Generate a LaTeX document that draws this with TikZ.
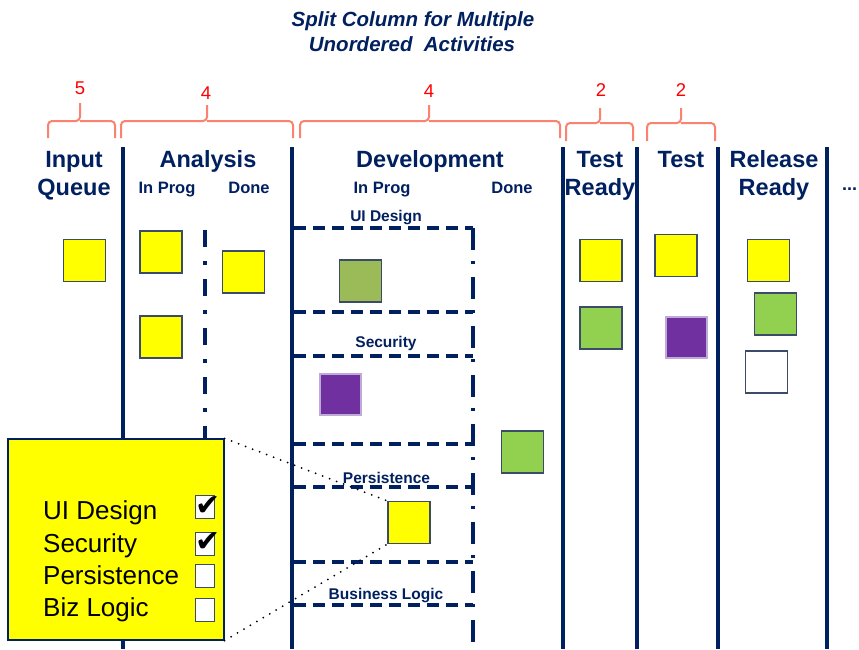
\documentclass[tikz,border=0pt]{standalone}
\usepackage{fontspec}
\setmainfont{Liberation Sans}
\newfontfamily\dejavu{DejaVu Sans}
\definecolor{navy}{RGB}{0,32,96}
\definecolor{bracketc}{RGB}{250,130,110}
\definecolor{cardyellow}{RGB}{255,255,0}
\definecolor{cardolive}{RGB}{155,187,89}
\definecolor{cardgreen}{RGB}{146,208,80}
\definecolor{cardpurple}{RGB}{112,48,160}
\definecolor{cardedge}{RGB}{60,75,105}
\definecolor{purpleedge}{RGB}{190,170,215}
\begin{document}
\begin{tikzpicture}[x=1pt,y=-1pt,
  colline/.style={line width=4pt, draw=navy},
  splitline/.style={line width=4pt, draw=navy, dash pattern=on 17pt off 14pt on 4pt off 14pt},
  splitdev/.style={line width=3.5pt, draw=navy, dash pattern=on 22pt off 11pt on 3pt off 13pt},
  hdash/.style={line width=3.5pt, draw=navy, dash pattern=on 12pt off 7pt},
  brace/.style={line width=2pt, draw=bracketc, rounded corners=4pt},
  limit/.style={text=red, font=\fontsize{18.5}{20}\selectfont, anchor=base, inner sep=0pt},
  head/.style={text=navy, font=\bfseries\fontsize{23.5}{28}\selectfont, anchor=base, inner sep=0pt},
  subhead/.style={text=navy, font=\bfseries\fontsize{16.5}{19}\selectfont, anchor=base, inner sep=0pt},
  lane/.style={text=navy, font=\bfseries\fontsize{15.5}{18}\selectfont, anchor=base, inner sep=0pt},
  ttl/.style={text=navy, font=\bfseries\itshape\fontsize{20.5}{25}\selectfont, anchor=base, inner sep=0pt},
  card/.style={minimum width=42pt, minimum height=42pt, inner sep=0pt, draw=cardedge, line width=1.2pt},
  popbox/.style={minimum width=216pt, minimum height=201pt, inner sep=0pt, draw=navy, line width=1.2pt, fill=cardyellow},
  popt/.style={font=\fontsize{26}{30}\selectfont, anchor=base west, inner sep=0pt},
  cbox/.style={draw=cardedge, fill=white, line width=1pt, minimum width=19pt, minimum height=23pt, inner sep=0pt},
  chk/.style={font=\dejavu\fontsize{30}{30}\selectfont, inner sep=0pt},
  dotline/.style={line width=2pt, dash pattern=on 0pt off 7.5pt, line cap=round}
]
\useasboundingbox[fill=white] (0,0) rectangle (859,649);

% title
\node[ttl] (t1) at (413,26) {Split Column for Multiple};
\node[ttl] (t2) at (412,51) {Unordered~~Activities};

% WIP limit brackets
\draw[brace] (48,138) -- (48,121) -- (80,121) -- (80,103);
\draw[brace] (80,121) -- (115,121) -- (115,138);
\draw[brace] (121,138) -- (121,121) -- (207,121) -- (207,105);
\draw[brace] (207,121) -- (293,121) -- (293,138);
\draw[brace] (300,138) -- (300,121) -- (429,121) -- (429,105);
\draw[brace] (429,121) -- (560,121) -- (560,138);
\draw[brace] (566,141) -- (566,123) -- (600,123) -- (600,108);
\draw[brace] (600,123) -- (633,123) -- (633,141);
\draw[brace] (647,141) -- (647,123) -- (681,123) -- (681,108);
\draw[brace] (681,123) -- (715,123) -- (715,141);
\node[limit] (l1) at (80,94) {5};
\node[limit] (l2) at (206,99) {4};
\node[limit] (l3) at (429,97) {4};
\node[limit] (l4) at (601,96) {2};
\node[limit] (l5) at (681,96) {2};

% column lines
\draw[colline] (123,147) -- (123,649);
\draw[colline] (292,147) -- (292,649);
\draw[colline] (563,147) -- (563,649);
\draw[colline] (637,147) -- (637,649);
\draw[colline] (718,147) -- (718,649);
\draw[colline] (827,147) -- (827,649);

% split lines
\draw[splitline] (205,230) -- (205,649);
\draw[splitdev] (473,228) -- (473,649);
\foreach \yy in {228,312,356,444,487,562,605}
  \draw[hdash] (294,\yy) -- (473,\yy);

% headers
\node[head] (h1a) at (74,167) {Input};
\node[head] (h1b) at (74,195) {Queue};
\node[head] (h2) at (208,167) {Analysis};
\node[head] (h3) at (430,167) {Development};
\node[head] (h4a) at (600,167) {Test};
\node[head] (h4b) at (600,195) {Ready};
\node[head] (h5) at (681,167) {Test};
\node[head] (h6a) at (774,167) {Release};
\node[head] (h6b) at (774,195) {Ready};
\node[head, anchor=base west, font=\bfseries\fontsize{18}{20}\selectfont] (h7) at (842,190) {...};
\node[subhead] (s1) at (167,193) {In Prog};
\node[subhead] (s2) at (249,193) {Done};
\node[subhead] (s3) at (382,193) {In Prog};
\node[subhead] (s4) at (512,193) {Done};
\node[lane] (a1) at (386,221) {UI Design};
\node[lane] (a2) at (386,347) {Security};
\node[lane] (a3) at (386.5,483) {Persistence};
\node[lane] (a4) at (386,599) {Business Logic};

% cards
\node[card, fill=cardyellow] (cIQ) at (84.5,260.5) {};
\node[card, fill=cardyellow] (cA1) at (161,252) {};
\node[card, fill=cardyellow] (cA2) at (161,337) {};
\node[card, fill=cardyellow] (cAD) at (243.5,272) {};
\node[card, fill=cardolive] (cUI) at (360.5,281) {};
\node[card, fill=cardpurple, draw=purpleedge, minimum width=41pt, minimum height=41pt] (cSec) at (340.5,394.5) {};
\node[card, fill=cardgreen] (cDD) at (522.5,452) {};
\node[card, fill=cardyellow] (cPer) at (409,522.5) {};
\node[card, fill=cardyellow] (cTR1) at (601,260.5) {};
\node[card, fill=cardgreen] (cTR2) at (601,328) {};
\node[card, fill=cardyellow] (cT1) at (676,255.5) {};
\node[card, fill=cardpurple, draw=purpleedge, minimum width=41pt, minimum height=41pt] (cT2) at (686.5,337.5) {};
\node[card, fill=cardyellow] (cR1) at (768.5,260.5) {};
\node[card, fill=cardgreen] (cR2) at (775.5,314) {};
\node[card, fill=white] (cR3) at (766.5,372) {};

% popup
\node[popbox] (pop) at (116,539.5) {};
\node[popt] (p1) at (43,519) {UI Design};
\node[popt] (p2) at (43,552) {Security};
\node[popt] (p3) at (43,584) {Persistence};
\node[popt] (p4) at (43,616) {Biz Logic};
\node[cbox] (b1) at (204.5,507) {};
\node[cbox] (b2) at (204.5,543.5) {};
\node[cbox] (b3) at (204.5,576) {};
\node[cbox] (b4) at (204.5,610) {};
\node[chk] (k1) at (208.5,506.5) {✔};
\node[chk] (k2) at (208.5,542.5) {✔};

% zoom connectors
\draw[dotline] (pop.north east) -- (cPer.north west);
\draw[dotline] (pop.south east) -- (cPer.south west);
\end{tikzpicture}
\end{document}
